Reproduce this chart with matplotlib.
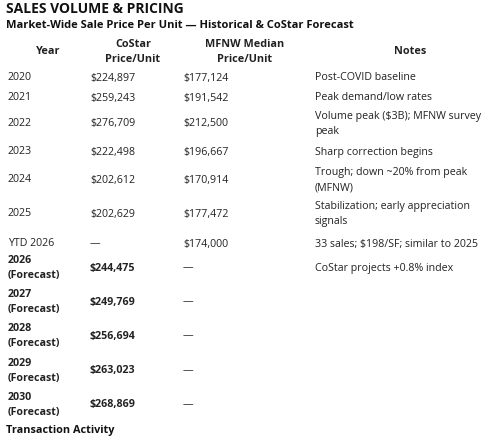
import matplotlib
matplotlib.use("Agg")
import matplotlib.pyplot as plt

plt.rcParams['font.family'] = ['Open Sans', 'DejaVu Sans']

title = "SALES VOLUME & PRICING"
subtitle = "Market-Wide Sale Price Per Unit \u2014 Historical & CoStar Forecast"
headers = ["Year", "CoStar\nPrice/Unit", "MFNW Median\nPrice/Unit", "Notes"]
years = ["2020", "2021", "2022", "2023", "2024", "2025", "YTD 2026",
         "2026\n(Forecast)", "2027\n(Forecast)", "2028\n(Forecast)", "2029\n(Forecast)", "2030\n(Forecast)"]
costar = ["$224,897", "$259,243", "$276,709", "$222,498", "$202,612", "$202,629", "\u2014",
          "$244,475", "$249,769", "$256,694", "$263,023", "$268,869"]
mfnw = ["$177,124", "$191,542", "$212,500", "$196,667", "$170,914", "$177,472", "$174,000",
        "\u2014", "\u2014", "\u2014", "\u2014", "\u2014"]
notes = ["Post-COVID baseline", "Peak demand/low rates", "Volume peak ($3B); MFNW survey\npeak",
         "Sharp correction begins", "Trough; down ~20% from peak\n(MFNW)",
         "Stabilization; early appreciation\nsignals", "33 sales; $198/SF; similar to 2025",
         "CoStar projects +0.8% index", "", "", "", ""]
footer = "Transaction Activity"

W, H = 500, 445
fig = plt.figure(figsize=(W/100, H/100), dpi=100)
fig.patch.set_facecolor("white")

def T(x, y, s, **kw):
    kw.setdefault("va", "center")
    kw.setdefault("fontsize", 7.7)
    kw.setdefault("color", "#222222")
    kw.setdefault("linespacing", 1.55)
    fig.text(x/W, 1 - y/H, s, **kw)

T(6, 9, title, fontsize=10, weight="bold", color="#111111")
T(6, 26, subtitle, fontsize=8, weight="bold", color="#111111")
hx = [48, 133, 245, 410]
for x, h in zip(hx, headers):
    T(x, 52, h, ha="center", weight="bold", fontsize=7.8)

row_y = [78, 98, 124, 152, 180, 214, 244, 268, 302, 336, 371, 405]
for i, y in enumerate(row_y):
    forecast = "Forecast" in years[i]
    T(8, y, years[i], weight="bold" if forecast else "normal")
    T(90, y, costar[i], weight="bold" if forecast else "normal")
    T(183, y, mfnw[i])
    if notes[i]:
        T(315, y, notes[i])

T(6, 431, footer, fontsize=7.8, weight="bold", color="#111111")
fig.savefig("out.png", dpi=100)
